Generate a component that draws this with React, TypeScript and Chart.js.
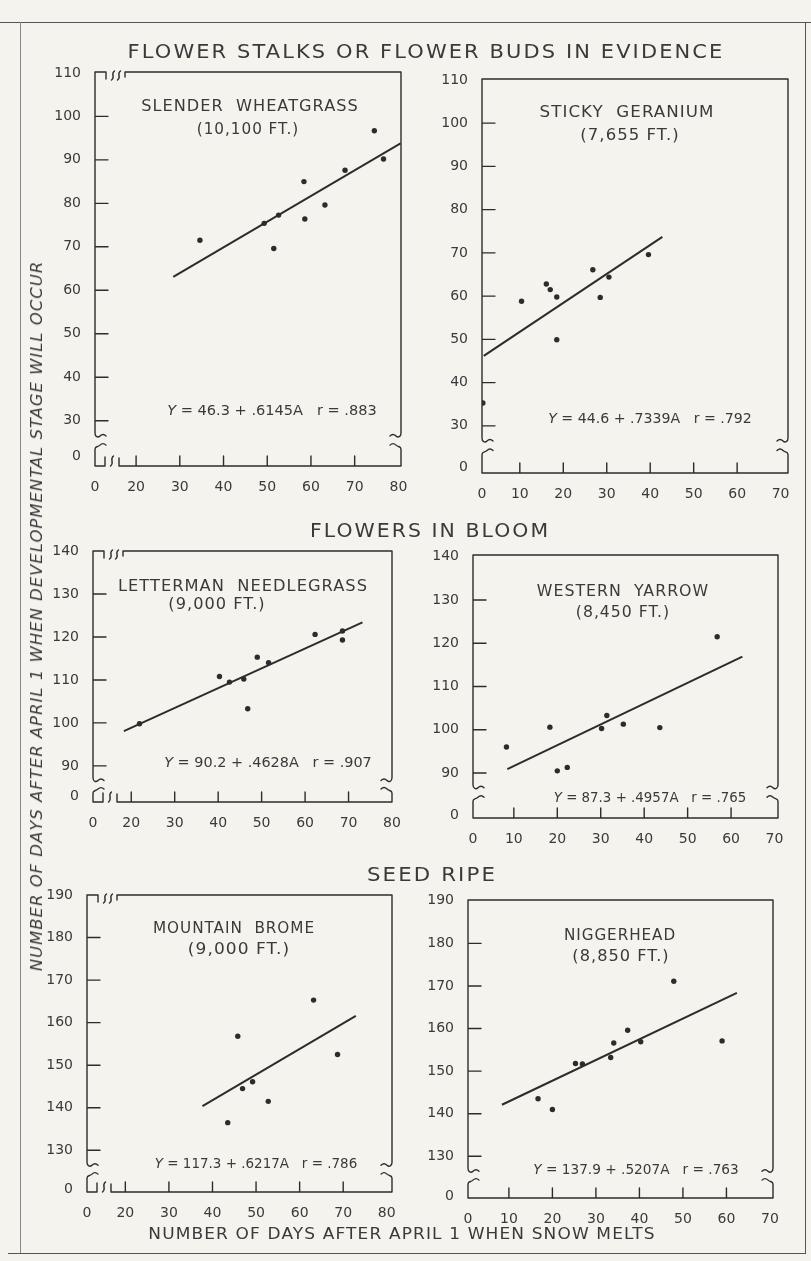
import React, { useEffect, useLayoutEffect, useRef, useState } from "react";
import { Chart, registerables } from "chart.js";

Chart.register(...registerables);

// ---------------- data ----------------
// Slender wheatgrass (10,100 ft) – flower stalks or buds in evidence
const wheatgrassDays = [34.6, 49.3, 52.6, 51.5, 58.4, 58.6, 63.2, 67.8, 74.5, 76.6];
const wheatgrassStage = [71.5, 75.4, 77.3, 69.6, 85.0, 76.4, 79.6, 87.6, 96.7, 90.2];
const wheatgrassFitDays = [28.5, 80.5];
const wheatgrassFitStage = [63.1, 93.8];

// Sticky geranium (7,655 ft)
const geraniumDays = [1.5, 10.4, 16.1, 17.0, 18.5, 18.5, 26.8, 28.5, 30.5, 39.6];
const geraniumStage = [35.3, 58.8, 62.8, 61.5, 59.8, 49.9, 66.1, 59.7, 64.4, 69.6];
const geraniumFitDays = [1.7, 42.8];
const geraniumFitStage = [46.2, 73.7];

// Letterman needlegrass (9,000 ft) – flowers in bloom
const needlegrassDays = [21.9, 40.3, 42.6, 45.9, 46.8, 49.0, 51.6, 62.3, 68.6, 68.6];
const needlegrassStage = [99.8, 110.8, 109.5, 110.2, 103.3, 115.3, 114.0, 120.6, 121.4, 119.3];
const needlegrassFitDays = [18.3, 73.2];
const needlegrassFitStage = [98.1, 123.4];

// Western yarrow (8,450 ft)
const yarrowDays = [8.3, 18.3, 20.0, 22.3, 30.2, 31.4, 35.2, 43.6, 56.8];
const yarrowStage = [96.0, 100.6, 90.5, 91.3, 100.3, 103.3, 101.3, 100.5, 121.5];
const yarrowFitDays = [8.5, 62.6];
const yarrowFitStage = [90.9, 116.9];

// Mountain brome (9,000 ft) – seed ripe
const bromeDays = [43.5, 45.8, 46.9, 49.2, 52.8, 63.2, 68.7];
const bromeStage = [136.5, 156.8, 144.5, 146.1, 141.5, 165.3, 152.5];
const bromeFitDays = [37.7, 72.9];
const bromeFitStage = [140.4, 161.6];

// Niggerhead (8,850 ft)
const niggerheadDays = [16.7, 20.0, 25.3, 26.9, 33.4, 34.1, 37.3, 40.3, 47.9, 59.0];
const niggerheadStage = [143.5, 141.0, 151.8, 151.7, 153.2, 156.6, 159.6, 156.9, 171.1, 157.1];
const niggerheadFitDays = [8.4, 62.4];
const niggerheadFitStage = [142.1, 168.4];

// tick labels
const xTicksFrom20 = [20, 30, 40, 50, 60, 70, 80];
const xTicksFrom10 = [10, 20, 30, 40, 50, 60, 70];
const yTicksStalks = [30, 40, 50, 60, 70, 80, 90, 100, 110];
const yTicksBloom = [90, 100, 110, 120, 130, 140];
const yTicksSeed = [130, 140, 150, 160, 170, 180, 190];

// ---------------- styles / layout ----------------
const BG = "#f4f3ee";
const INK = "#2c2c2c";
const TEXT = "#3a3a3a";
const FONT = "'DejaVu Sans', 'Liberation Sans', sans-serif";
const YW = 50;
const PT = 16;
const PR = 18;
const XH = 32;

type Spec = {
  id: string;
  area: { left: number; top: number; right: number; bottom: number };
  xMin: number; xMax: number; yMin: number; yMax: number;
  xZero: number; yZero: number;
  xTicks: number[]; yTicks: number[];
  xBreak: boolean;
  yBreakHi: number; yBreakLo: number;
  days: number[]; stage: number[]; fitDays: number[]; fitStage: number[];
};

const specs: Spec[] = [
  {
    id: "wheatgrass", area: { left: 95, top: 72, right: 401, bottom: 466 },
    xMin: 10.6, xMax: 80.6, yMin: 19.6, yMax: 110.2, xZero: 10.6, yZero: 21.8,
    xTicks: xTicksFrom20, yTicks: yTicksStalks, xBreak: true, yBreakHi: 27.2, yBreakLo: 24.4,
    days: wheatgrassDays, stage: wheatgrassStage, fitDays: wheatgrassFitDays, fitStage: wheatgrassFitStage,
  },
  {
    id: "geranium", area: { left: 481.7, top: 79, right: 787.3, bottom: 473 },
    xMin: 1.3, xMax: 71.7, yMin: 19.1, yMax: 110.2, xZero: 1.3, yZero: 20.3,
    xTicks: xTicksFrom10, yTicks: yTicksStalks, xBreak: false, yBreakHi: 27.2, yBreakLo: 24.3,
    days: geraniumDays, stage: geraniumStage, fitDays: geraniumFitDays, fitStage: geraniumFitStage,
  },
  {
    id: "needlegrass", area: { left: 93.3, top: 551, right: 392.6, bottom: 802 },
    xMin: 11.2, xMax: 80, yMin: 81.6, yMax: 140, xZero: 11.2, yZero: 83,
    xTicks: xTicksFrom20, yTicks: yTicksBloom, xBreak: true, yBreakHi: 87.3, yBreakLo: 84.6,
    days: needlegrassDays, stage: needlegrassStage, fitDays: needlegrassFitDays, fitStage: needlegrassFitStage,
  },
  {
    id: "yarrow", area: { left: 473.3, top: 555, right: 778.3, bottom: 817.7 },
    xMin: 0.6, xMax: 70.8, yMin: 79.6, yMax: 140.4, xZero: 0.6, yZero: 80.3,
    xTicks: xTicksFrom10, yTicks: yTicksBloom, xBreak: false, yBreakHi: 87.3, yBreakLo: 84.4,
    days: yarrowDays, stage: yarrowStage, fitDays: yarrowFitDays, fitStage: yarrowFitStage,
  },
  {
    id: "brome", area: { left: 86.7, top: 895, right: 391.7, bottom: 1191.7 },
    xMin: 11.2, xMax: 81.2, yMin: 120.2, yMax: 190, xZero: 11.2, yZero: 120.8,
    xTicks: xTicksFrom20, yTicks: yTicksSeed, xBreak: true, yBreakHi: 127.2, yBreakLo: 124.4,
    days: bromeDays, stage: bromeStage, fitDays: bromeFitDays, fitStage: bromeFitStage,
  },
  {
    id: "niggerhead", area: { left: 468.3, top: 900, right: 773.3, bottom: 1198.3 },
    xMin: 0.6, xMax: 70.7, yMin: 120.2, yMax: 190.2, xZero: 0.6, yZero: 120.6,
    xTicks: xTicksFrom10, yTicks: yTicksSeed, xBreak: false, yBreakHi: 127.2, yBreakLo: 124.4,
    days: niggerheadDays, stage: niggerheadStage, fitDays: niggerheadFitDays, fitStage: niggerheadFitStage,
  },
];

// ---------------- frame / broken-axis plugin ----------------
function squiggle(ctx: CanvasRenderingContext2D, x: number, yTop: number, h: number) {
  ctx.moveTo(x + 1.5, yTop);
  ctx.bezierCurveTo(x - 3, yTop + h * 0.35, x + 3, yTop + h * 0.65, x - 1.5, yTop + h);
}

function makeFramePlugin(s: Spec) {
  return {
    id: "frame_" + s.id,
    beforeDatasetsDraw(chart: any) {
      const { ctx, chartArea: a, scales } = chart;
      const xs = scales.x;
      const ys = scales.y;
      const L = a.left, R = a.right, T = a.top, B = a.bottom;
      const hi = ys.getPixelForValue(s.yBreakHi);
      const lo = ys.getPixelForValue(s.yBreakLo);
      ctx.save();
      ctx.strokeStyle = INK;
      ctx.lineWidth = 1.4;
      ctx.lineCap = "round";
      ctx.lineJoin = "round";
      ctx.beginPath();
      // upper-left axis and top border
      ctx.moveTo(L, hi);
      ctx.lineTo(L, T);
      if (s.xBreak) {
        ctx.lineTo(L + 11, T);
        ctx.lineTo(L + 11, T + 7);
        squiggle(ctx, L + 18, T - 1, 9);
        squiggle(ctx, L + 24, T - 1, 9);
        ctx.moveTo(L + 30, T + 5);
        ctx.lineTo(L + 30, T);
      }
      ctx.lineTo(R, T);
      ctx.lineTo(R, hi);
      // right curl
      ctx.bezierCurveTo(R, hi + 4, R - 3, hi + 5, R - 5, hi + 3);
      ctx.bezierCurveTo(R - 7, hi + 1, R - 9, hi + 1, R - 11, hi + 3);
      // left curl
      ctx.moveTo(L, hi);
      ctx.bezierCurveTo(L, hi + 4, L + 3, hi + 5, L + 5, hi + 3);
      ctx.bezierCurveTo(L + 7, hi + 1, L + 9, hi + 1, L + 11, hi + 3);
      // lower-left segment
      ctx.moveTo(L + 11, lo);
      ctx.bezierCurveTo(L + 9, lo - 2, L + 7, lo - 2, L + 5, lo);
      ctx.bezierCurveTo(L + 3, lo + 2, L, lo + 1, L, lo + 4);
      ctx.lineTo(L, B);
      if (s.xBreak) {
        ctx.lineTo(L + 10, B);
        ctx.lineTo(L + 10, B - 9);
        squiggle(ctx, L + 17, B - 10, 10);
        ctx.moveTo(L + 24, B - 8);
        ctx.lineTo(L + 24, B);
      }
      ctx.lineTo(R, B);
      ctx.lineTo(R, lo + 4);
      ctx.bezierCurveTo(R, lo + 1, R - 3, lo + 2, R - 5, lo);
      ctx.bezierCurveTo(R - 7, lo - 2, R - 9, lo - 2, R - 11, lo);
      // y ticks (inward)
      for (const v of s.yTicks) {
        if (v > s.yMin + 1 && v < s.yMax - 1) {
          const py = ys.getPixelForValue(v);
          ctx.moveTo(L, py);
          ctx.lineTo(L + 13, py);
        }
      }
      // x ticks (upward)
      for (const v of s.xTicks) {
        if (v > s.xMin + 1 && v < s.xMax - 2) {
          const px = xs.getPixelForValue(v);
          ctx.moveTo(px, B);
          ctx.lineTo(px, B - 10);
        }
      }
      ctx.stroke();
      ctx.restore();
    },
  };
}

// ---------------- chart component ----------------
function PanelChart({ spec }: { spec: Spec }) {
  const ref = useRef<HTMLCanvasElement>(null);
  const a = spec.area;
  const left = a.left - YW;
  const top = a.top - PT;
  const width = Math.round(a.right - a.left + YW + PR);
  const height = Math.round(a.bottom - a.top + PT + XH);

  useEffect(() => {
    const s = spec;
    const xLabels = [s.xZero, ...s.xTicks];
    const yLabels = [s.yZero, ...s.yTicks];
    const tickFont = { family: FONT, size: 14 };
    const chart = new Chart(ref.current as HTMLCanvasElement, {
      type: "scatter",
      data: {
        datasets: [
          {
            data: s.days.map((d, i) => ({ x: d, y: s.stage[i] })),
            pointRadius: 2.7,
            pointBackgroundColor: INK,
            pointBorderWidth: 0,
            showLine: false,
          },
          {
            data: s.fitDays.map((d, i) => ({ x: d, y: s.fitStage[i] })),
            showLine: true,
            borderColor: INK,
            borderWidth: 2,
            pointRadius: 0,
          },
        ],
      },
      options: {
        animation: false,
        responsive: false,
        events: [],
        layout: { padding: { top: PT, right: PR, left: 0, bottom: 0 } },
        plugins: { legend: { display: false }, tooltip: { enabled: false } },
        scales: {
          x: {
            type: "linear",
            min: s.xMin,
            max: s.xMax,
            grid: { display: false },
            border: { display: false },
            afterBuildTicks: (sc: any) => {
              sc.ticks = xLabels.map((v) => ({ value: v }));
            },
            afterFit: (sc: any) => {
              sc.height = XH;
            },
            ticks: {
              autoSkip: false,
              maxRotation: 0,
              padding: 5,
              color: TEXT,
              font: tickFont,
              callback: (v: any) => (Math.abs(Number(v) - s.xZero) < 1e-6 ? "0" : String(v)),
            },
          },
          y: {
            type: "linear",
            min: s.yMin,
            max: s.yMax,
            grid: { display: false },
            border: { display: false },
            afterBuildTicks: (sc: any) => {
              sc.ticks = yLabels.map((v) => ({ value: v }));
            },
            afterFit: (sc: any) => {
              sc.width = YW;
            },
            ticks: {
              autoSkip: false,
              padding: 6,
              color: TEXT,
              font: tickFont,
              callback: (v: any) => (Math.abs(Number(v) - s.yZero) < 1e-6 ? "0" : String(v)),
            },
          },
        },
      } as any,
      plugins: [makeFramePlugin(s) as any],
    });
    return () => chart.destroy();
  }, []);

  return (
    <canvas
      ref={ref}
      width={width}
      height={height}
      style={{ position: "absolute", left, top, width, height }}
    />
  );
}

// ---------------- text helper ----------------
function Txt(props: {
  x: number; y: number; w?: number; size: number; italic?: boolean; rotate?: boolean;
  spacing?: number; children: React.ReactNode;
}) {
  const ref = useRef<HTMLDivElement>(null);
  const [sx, setSx] = useState(1);
  useLayoutEffect(() => {
    const el = ref.current;
    if (el && props.w) {
      const nat = el.offsetWidth;
      if (nat > 0) setSx(props.w / nat);
    }
  }, []);
  return (
    <div
      ref={ref}
      style={{
        position: "absolute",
        left: props.x,
        top: props.y,
        whiteSpace: "pre",
        fontSize: props.size,
        lineHeight: 1,
        letterSpacing: props.spacing ?? 0,
        fontStyle: props.italic ? "italic" : "normal",
        transform: `translate(-50%, -50%)${props.rotate ? " rotate(-90deg)" : ""} scaleX(${sx})`,
        transformOrigin: "center",
      }}
    >
      {props.children}
    </div>
  );
}

function Eq({ a, b, r }: { a: string; b: string; r: string }) {
  return (
    <>
      <span style={{ fontStyle: "italic" }}>Y</span>
      {` = ${a} + ${b}A   r = ${r}`}
    </>
  );
}

export default function App() {
  return (
    <div
      style={{
        position: "fixed",
        left: 0,
        top: 0,
        width: 811,
        height: 1261,
        background: BG,
        overflow: "hidden",
        fontFamily: FONT,
        color: TEXT,
      }}
    >
      {/* page frame */}
      <div style={{ position: "absolute", left: 0, top: 22, width: 811, height: 0, borderTop: "1.5px solid #555" }} />
      <div style={{ position: "absolute", left: 805, top: 22, width: 0, height: 1231, borderLeft: "1.5px solid #555" }} />
      <div style={{ position: "absolute", left: 8, top: 1253, width: 798, height: 0, borderTop: "1.5px solid #555" }} />
      <div style={{ position: "absolute", left: 20, top: 22, width: 0, height: 1231, borderLeft: "1.2px solid #888" }} />

      {specs.map((s) => (
        <PanelChart key={s.id} spec={s} />
      ))}

      {/* section titles */}
      <Txt x={426} y={51} w={597} size={20} spacing={2}>FLOWER STALKS OR FLOWER BUDS IN EVIDENCE</Txt>
      <Txt x={430} y={530} w={240} size={20} spacing={2}>FLOWERS IN BLOOM</Txt>
      <Txt x={432} y={874} w={130} size={20} spacing={2}>SEED RIPE</Txt>

      {/* axis titles */}
      <Txt x={402} y={1234} w={507} size={15} spacing={1}>NUMBER OF DAYS AFTER APRIL 1 WHEN SNOW MELTS</Txt>
      <Txt x={37} y={616} w={710} size={16} spacing={1} italic rotate>
        NUMBER OF DAYS AFTER APRIL 1 WHEN DEVELOPMENTAL STAGE WILL OCCUR
      </Txt>

      {/* panel labels */}
      <Txt x={250} y={106} w={217} size={16} spacing={1}>SLENDER  WHEATGRASS</Txt>
      <Txt x={247.5} y={129} w={102} size={16} spacing={1}>(10,100 FT.)</Txt>
      <Txt x={271.7} y={410} w={210} size={14}><Eq a="46.3" b=".6145" r=".883" /></Txt>

      <Txt x={626.7} y={112.3} w={175} size={16} spacing={1}>STICKY  GERANIUM</Txt>
      <Txt x={629.5} y={135} w={99} size={16} spacing={1}>(7,655 FT.)</Txt>
      <Txt x={650} y={418.3} w={204} size={14}><Eq a="44.6" b=".7339" r=".792" /></Txt>

      <Txt x={243.3} y={585.7} w={250} size={16} spacing={1}>LETTERMAN  NEEDLEGRASS</Txt>
      <Txt x={216.7} y={604.3} w={97} size={16} spacing={1}>(9,000 FT.)</Txt>
      <Txt x={267.5} y={761.7} w={208} size={14}><Eq a="90.2" b=".4628" r=".907" /></Txt>

      <Txt x={623.3} y={590.7} w={172} size={16} spacing={1}>WESTERN  YARROW</Txt>
      <Txt x={622.8} y={611.7} w={94} size={16} spacing={1}>(8,450 FT.)</Txt>
      <Txt x={650.3} y={796.7} w={193} size={14}><Eq a="87.3" b=".4957" r=".765" /></Txt>

      <Txt x={234} y={928.3} w={162} size={16} spacing={1}>MOUNTAIN  BROME</Txt>
      <Txt x={239} y={949.3} w={102} size={16} spacing={1}>(9,000 FT.)</Txt>
      <Txt x={255.8} y={1163.3} w={202} size={14}><Eq a="117.3" b=".6217" r=".786" /></Txt>

      <Txt x={620} y={935} w={112} size={16} spacing={1}>NIGGERHEAD</Txt>
      <Txt x={620.8} y={956} w={97} size={16} spacing={1}>(8,850 FT.)</Txt>
      <Txt x={635.8} y={1169.3} w={205} size={14}><Eq a="137.9" b=".5207" r=".763" /></Txt>
    </div>
  );
}
